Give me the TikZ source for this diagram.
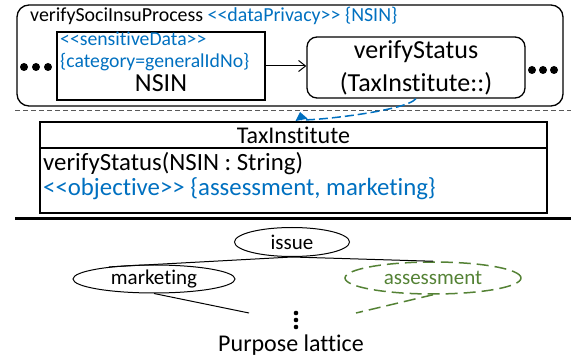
\documentclass[tikz,border=0pt]{standalone}
\usepackage{fontspec}
\setmainfont{Carlito}[Ligatures={TeX,CommonOff}]
\usetikzlibrary{arrows.meta,shapes.geometric}
\definecolor{stBlue}{RGB}{0,112,192}
\definecolor{lattGreen}{RGB}{84,130,53}
\newcommand{\fsz}[1]{\fontsize{#1}{#1}\selectfont}
\newcommand{\stereo}[1]{<{}<#1>{}>}
\begin{document}
\begin{tikzpicture}[x=1pt, y=-1pt,
    box/.style={draw, line width=1.3pt, inner sep=0pt},
    txt/.style={inner sep=0pt},
    latt/.style={draw, ellipse, line width=1pt, inner sep=0pt, font=\fsz{21}},
    gdash/.style={lattGreen, dash pattern=on 12pt off 6pt, line width=1.5pt}]
    \useasboundingbox (0,0) rectangle (571,358);
    % process
    \node[box, rounded corners=12pt, minimum width=546pt, minimum height=101pt] (proc) at (290,55.5) {};
    \node[txt, anchor=base west, font=\fsz{19.9}] (ptitle) at (30,22) {verifySociInsuProcess \textcolor{stBlue}{\stereo{dataPrivacy} \{NSIN\}}};
    \node[box, minimum width=208pt, minimum height=68pt] (nsinbox) at (161,66) {};
    \node[txt, anchor=base west, font=\fsz{19.7}, text=stBlue] (sens) at (60,46) {\stereo{sensitiveData}};
    \node[txt, anchor=base west, font=\fsz{19.7}, text=stBlue] (cat) at (60,68) {\{category=generalIdNo\}};
    \node[txt, anchor=base, font=\fsz{26}] (nsin) at (161,92) {NSIN};
    \node[box, rounded corners=10pt, minimum width=218pt, minimum height=61pt, align=center, font=\fsz{26}] (vs) at (416,67.5) {verifyStatus\\[7pt](TaxInstitute::)};
    \draw[-{Straight Barb[length=7pt,width=11pt]}, line width=1pt] (nsinbox.east) -- (nsinbox.east -| vs.west);
    \foreach \x in {24,36,48} \fill (\x,67) circle (4pt);
    \foreach \x in {532,543,554} \fill (\x,70) circle (4pt);
    \draw[dash pattern=on 5pt off 3pt, line width=1pt, black!65] (15,111) -- (571,111);
    % class
    \node[box, minimum width=507pt, minimum height=91pt] (tax) at (293.5,167.5) {};
    \coordinate (divy) at (0,148);
    \draw[line width=1.3pt] (tax.west |- divy) -- (tax.east |- divy);
    \node[txt, anchor=base, font=\fsz{24}] (taxname) at (293.5,144) {TaxInstitute};
    \node[txt, anchor=base west, font=\fsz{24.8}] (op) at (43,171) {verifyStatus(NSIN : String)};
    \node[txt, anchor=base west, font=\fsz{24.8}, text=stBlue] (obj) at (43,196) {\stereo{objective} \{assessment, marketing\}};
    \coordinate (taxtip) at (300,112);
    \draw[stBlue, dash pattern=on 9pt off 4pt, line width=1.5pt, -{Triangle[length=8pt,width=12pt]}] (vs.south) .. controls (405,112) and (302,122) .. (taxtip);
    \draw[line width=3pt] (15,219) -- (571,219);
    % lattice
    \node[latt, minimum width=115pt, minimum height=29pt] (issue) at (292,242) {issue};
    \node[latt, minimum width=162pt, minimum height=28pt] (mkt) at (154,279) {marketing};
    \node[latt, gdash, text=lattGreen, minimum width=176pt, minimum height=32pt] (asm) at (433,278) {assessment};
    \draw[line width=1pt] (issue.south) -- (mkt.165);
    \draw[line width=1pt] (issue.south) -- (asm.north);
    \coordinate (mktend) at (249,313);
    \coordinate (asmend) at (356,313);
    \draw[line width=1pt] (mkt.south) -- (mktend);
    \draw[gdash] (asm.south) -- (asmend);
    \foreach \y in {313,320,327} \fill (296,\y) circle (2.3pt);
    \node[txt, anchor=base, font=\fsz{24}] (purp) at (291,352) {Purpose lattice};
\end{tikzpicture}
\end{document}
